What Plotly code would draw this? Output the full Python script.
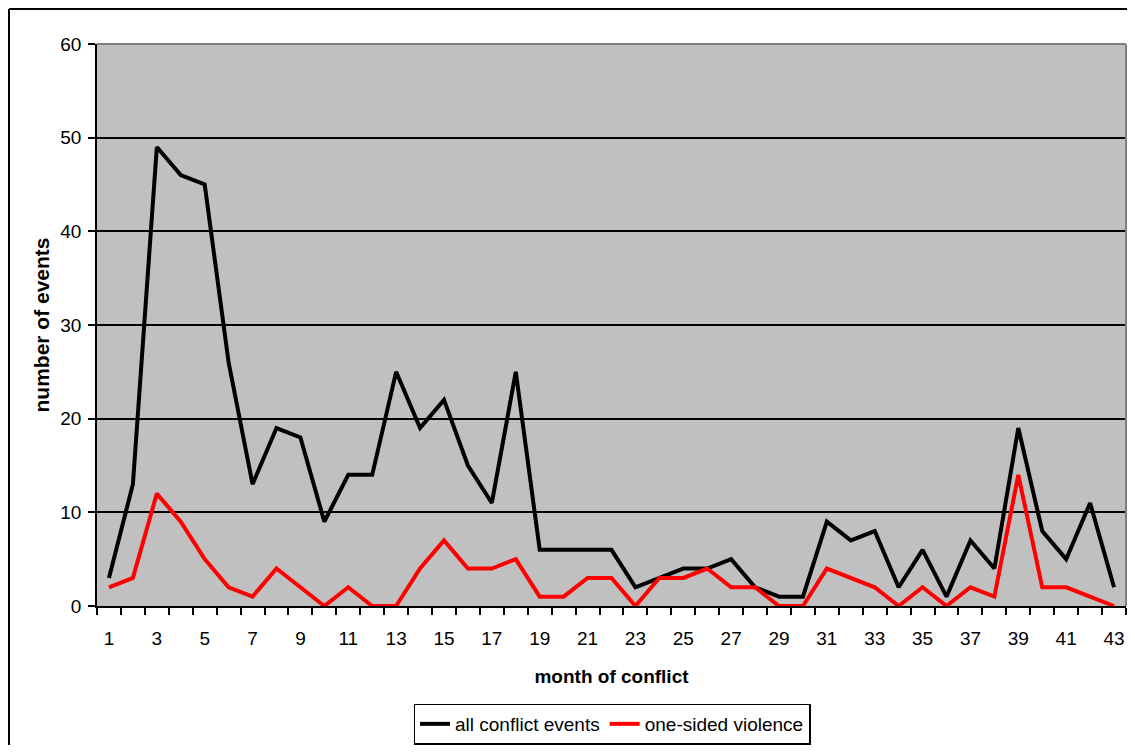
import plotly.graph_objects as go

months = [1, 2, 3, 4, 5, 6, 7, 8, 9, 10, 11, 12, 13, 14, 15, 16, 17, 18, 19, 20, 21, 22,
          23, 24, 25, 26, 27, 28, 29, 30, 31, 32, 33, 34, 35, 36, 37, 38, 39, 40, 41, 42, 43]
all_conflict = [3, 13, 49, 46, 45, 26, 13, 19, 18, 9, 14, 14, 25, 19, 22, 15, 11, 25, 6, 6, 6, 6,
                2, 3, 4, 4, 5, 2, 1, 1, 9, 7, 8, 2, 6, 1, 7, 4, 19, 8, 5, 11, 2]
one_sided = [2, 3, 12, 9, 5, 2, 1, 4, 2, 0, 2, 0, 0, 4, 7, 4, 4, 5, 1, 1, 3, 3,
             0, 3, 3, 4, 2, 2, 0, 0, 4, 3, 2, 0, 2, 0, 2, 1, 14, 2, 2, 1, 0]
x_tick_labels = [1, 3, 5, 7, 9, 11, 13, 15, 17, 19, 21, 23, 25, 27, 29, 31, 33, 35, 37, 39, 41, 43]
y_tick_values = [0, 10, 20, 30, 40, 50, 60]

# the page places the figure 8px from each edge of the window
W, H = 1119, 737
ML, MR, MT, MB = 89, 1, 36, 139
pw, ph = W - ML - MR, H - MT - MB


def px_x(p):
    return (p - ML) / pw


def px_y(p):
    return (H - MB - p) / ph


FAM = "Arial, Liberation Sans, sans-serif"
font = dict(family=FAM, size=19, color="black")

fig = go.Figure()
fig.add_trace(go.Scatter(x=months, y=all_conflict, mode="lines", name="all conflict events",
                         line=dict(color="black", width=4)))
fig.add_trace(go.Scatter(x=months, y=one_sided, mode="lines", name="one-sided violence",
                         line=dict(color="#FF0000", width=4)))

fig.update_layout(
    width=W, height=H,
    margin=dict(l=ML, r=MR, t=MT, b=MB, pad=0),
    paper_bgcolor="white",
    plot_bgcolor="#C0C0C0",
    font=font,
    showlegend=True,
    legend=dict(orientation="h", x=px_x(604), y=px_y(716), xanchor="center", yanchor="middle",
                bordercolor="black", borderwidth=1.5, bgcolor="white",
                font=font, tracegroupgap=0),
    xaxis=dict(
        range=[0.5, 43.5],
        tickmode="array", tickvals=x_tick_labels, ticktext=[str(v) for v in x_tick_labels],
        ticks="", showgrid=False, zeroline=False,
        showline=True, linecolor="black", linewidth=1.5,
        tickfont=font, ticklabelstandoff=14,
        minor=dict(tickmode="linear", tick0=0.5, dtick=1, ticks="outside", ticklen=7,
                   tickcolor="black", tickwidth=1.5, showgrid=False),
        title=dict(text="<b>month of conflict</b>", font=font, standoff=22),
    ),
    yaxis=dict(
        range=[0, 60], tickmode="array", tickvals=y_tick_values,
        ticks="outside", ticklen=7, tickcolor="black", tickwidth=1.5,
        showgrid=True, gridcolor="black", gridwidth=1.5, zeroline=False,
        showline=True, linecolor="black", linewidth=1.5,
        tickfont=font, ticklabelstandoff=3,
        title=dict(text="<b>number of events</b>", font=dict(family=FAM, size=21, color="black"),
                   standoff=5),
    ),
    shapes=[
        # plot area top/right border (gray)
        dict(type="line", xref="paper", yref="paper", x0=0, x1=1, y0=1, y1=1,
             line=dict(color="#808080", width=2)),
        dict(type="line", xref="paper", yref="paper", x0=1, x1=1, y0=0, y1=1,
             line=dict(color="#808080", width=2)),
        # outer chart border (left and top edges)
        dict(type="line", xref="paper", yref="paper",
             x0=px_x(1), x1=px_x(1), y0=px_y(H + 5), y1=px_y(1),
             line=dict(color="black", width=2)),
        dict(type="line", xref="paper", yref="paper",
             x0=px_x(1), x1=px_x(W + 5), y0=px_y(1), y1=px_y(1),
             line=dict(color="black", width=2)),
    ],
)

fig.write_html("out.html")
